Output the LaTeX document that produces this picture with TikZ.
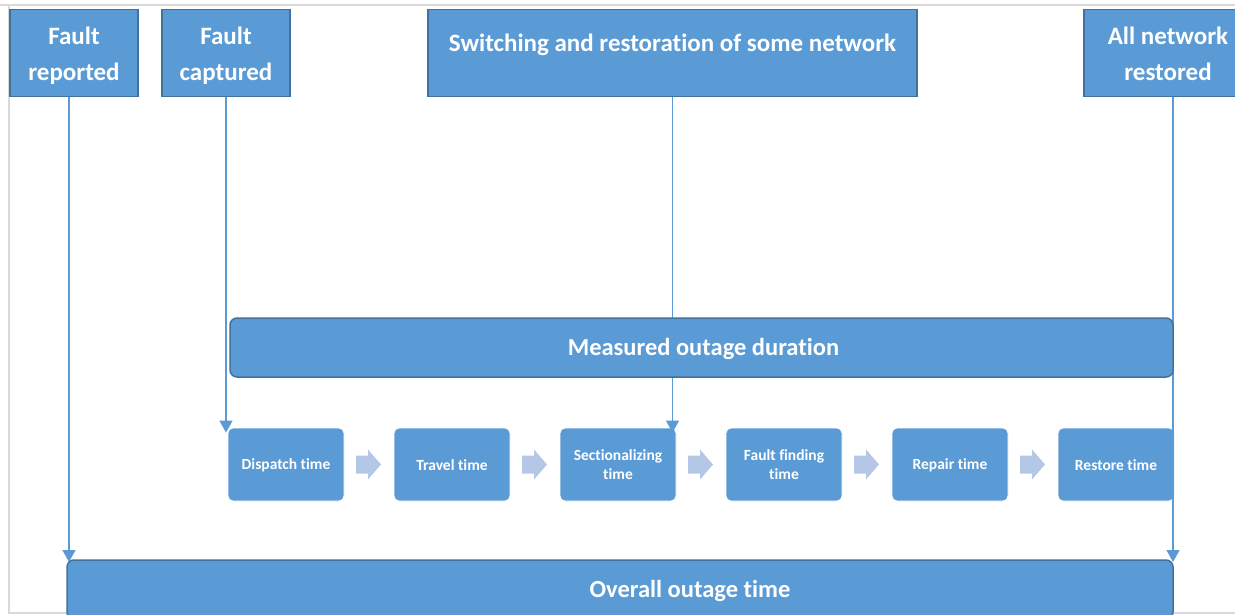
\documentclass[tikz,border=0pt]{standalone}
\usepackage{fontspec}
\setmainfont{Carlito}[Ligatures=NoCommon]
\usetikzlibrary{arrows.meta,calc}
\definecolor{boxblue}{HTML}{5B9BD5}
\definecolor{edgeblue}{HTML}{41719C}
\definecolor{chev}{HTML}{B4C7E7}
\definecolor{frame}{HTML}{D9D9D9}
\newcommand{\firstup}[1]{\rule{0pt}{#1}}
\tikzset{
  topbox/.style={draw=edgeblue, fill=boxblue, line width=1.5pt, text=white, font=\bfseries\fontsize{25}{36}\selectfont, align=center, inner sep=0pt, minimum height=87pt},
  bar/.style={draw=edgeblue, fill=boxblue, line width=1.5pt, rounded corners=7pt, text=white, font=\bfseries\fontsize{24.5}{30}\selectfont, inner sep=0pt, minimum height=59pt},
  stepbox/.style={draw=white, fill=boxblue, line width=0.8pt, rounded corners=5pt, text=white, font=\bfseries\fontsize{15.5}{19}\selectfont, align=center, inner sep=0pt, minimum width=116pt, minimum height=73pt},
  conn/.style={draw=boxblue, line width=1.3pt, -{Triangle[width=13pt,length=12pt]}},
  chevron/.style={fill=chev}
}
\begin{document}
\begin{tikzpicture}[x=1pt,y=-1pt]
\useasboundingbox (0,0) rectangle (1235,614);
\clip (0,0) rectangle (1235,614);
% frame
\draw[frame, line width=1.5pt] (0,5) -- (1235,5);
\draw[frame, line width=1.5pt] (9,5) -- (9,614);
\draw[frame, line width=1.5pt] (9,613) -- (1235,613);
% top boxes
\node[topbox, minimum width=128pt] (fr) at (74,53) {\firstup{23pt}Fault\\reported};
\node[topbox, minimum width=128pt] (fc) at (226,53) {\firstup{23pt}Fault\\captured};
\node[topbox, minimum width=489pt, text depth=20pt] (sw) at (672.5,53) {Switching and restoration of some network};
\node[topbox, minimum width=168pt] (an) at (1168,53) {\firstup{19pt}All network\\restored};
% step boxes
\node[stepbox] (s1) at (286,464.5) {\firstup{13pt}Dispatch time};
\node[stepbox] (s2) at (452,464.5) {\firstup{13pt}Travel time};
\node[stepbox] (s3) at (618,464.5) {Sectionalizing\\time};
\node[stepbox] (s4) at (784,464.5) {Fault finding\\time};
\node[stepbox] (s5) at (950,464.5) {\firstup{13pt}Repair time};
\node[stepbox] (s6) at (1116,464.5) {\firstup{13pt}Restore time};
\coordinate (ovtop) at (620,560);
% connectors (behind bars)
\draw[conn] ([xshift=-5pt]fr.south) -- ([xshift=-5pt,yshift=-2pt]fr.south |- ovtop);
\draw[conn] (fc.south) -- ([yshift=-5pt]fc.south |- s1.north);
\draw[conn] (sw.south) -- ([yshift=-5pt]sw.south |- s3.north);
\draw[conn] ([xshift=5pt]an.south) -- ([xshift=5pt,yshift=-2pt]an.south |- ovtop);
\node[bar, minimum width=943pt] (md) at (701.5,347.5) {\hspace*{4pt}\firstup{21pt}Measured outage duration};
\node[bar, minimum width=1106pt] (ov) at (620,589.5) {\hspace*{140pt}\firstup{21pt}Overall outage time};
% chevrons between steps
\foreach \a/\b/\n in {s1/s2/c1, s2/s3/c2, s3/s4/c3, s4/s5/c4, s5/s6/c5}{
  \coordinate (\n) at ($(\a.east)!0.5!(\b.west)$);
  \fill[chevron, shift={(\n)}] (-13,-9) -- (-1,-9) -- (-1,-15) -- (12,0) -- (-1,15) -- (-1,9) -- (-13,9) -- cycle;
}
\end{tikzpicture}
\end{document}
